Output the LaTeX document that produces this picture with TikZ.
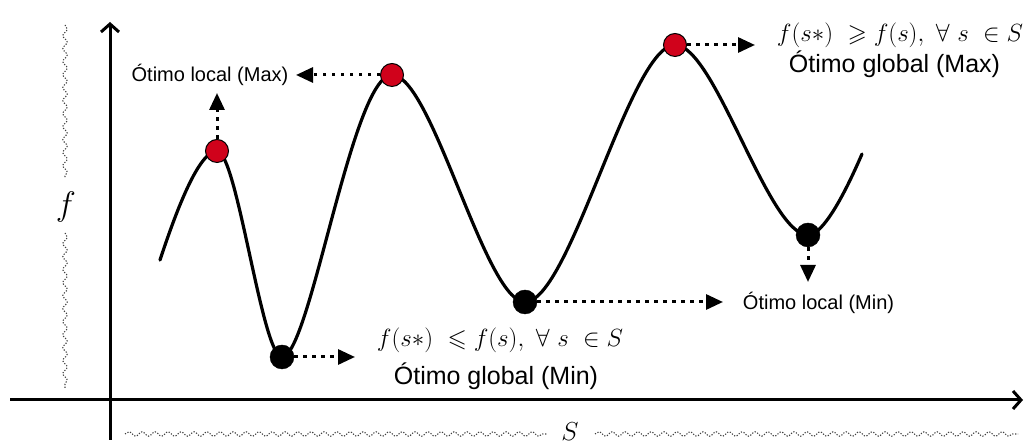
\RequirePackage{fix-cm}
\documentclass[tikz,border=0pt]{standalone}
\usepackage[no-math]{fontspec}
\newfontfamily\lsans{Liberation Sans}
\usepackage{amsmath,amssymb}
\usetikzlibrary{arrows.meta,decorations.pathmorphing}
\definecolor{dotred}{HTML}{D0021B}
\tikzset{
  curveline/.style={line width=3.2pt, line cap=round},
  axisline/.style={line width=3pt, -{Straight Barb[length=8pt,width=18pt,line width=3pt]}},
  wavy/.style={decorate, decoration={snake, segment length=13pt, amplitude=2.2pt}, dash pattern=on 1.2pt off 1.6pt, line width=1.1pt, black!75},
  reddot/.style={circle, fill=dotred, draw=black, line width=1pt, minimum size=23pt, inner sep=0pt},
  blackdot/.style={circle, fill=black, draw=black, minimum size=24pt, inner sep=0pt},
  dotarrow/.style={line width=3pt, dash pattern=on 3.5pt off 5.5pt, -{Triangle[length=17pt,width=15pt]}},
  lbl/.style={font=\lsans\fontsize{20}{24}\selectfont, inner sep=0pt},
  glbl/.style={font=\lsans\fontsize{25}{30}\selectfont, inner sep=0pt},
  fml/.style={font=\fontsize{24.88}{30}\selectfont, inner sep=0pt},
  axlbl/.style={font=\fontsize{34}{40}\selectfont, inner sep=0pt},
  slbl/.style={font=\fontsize{26}{30}\selectfont, inner sep=0pt}
}
\begin{document}
\begin{tikzpicture}[x=1pt,y=1pt]
\useasboundingbox (0,0) rectangle (1034,446);
% wavy brackets
\coordinate (fw1) at (65,421); \coordinate (fw2) at (65,268);
\coordinate (fw3) at (65,213); \coordinate (fw4) at (65,58);
\coordinate (sw1) at (125,12); \coordinate (sw2) at (547,12);
\coordinate (sw3) at (595,12); \coordinate (sw4) at (1018,12);
\draw[wavy] (fw1) -- (fw2);
\draw[wavy] (fw3) -- (fw4);
\draw[wavy] (sw1) -- (sw2);
\draw[wavy] (sw3) -- (sw4);
\node[axlbl, anchor=base] (flab) at (66,230) {$f$};
\node[slbl, anchor=base] (slab) at (570,5) {$S$};
% axes
\coordinate (ybot) at (110,6); \coordinate (ytop) at (110,424);
\coordinate (xl) at (10,46); \coordinate (xr) at (1023,46);
\draw[axisline] (ybot) -- (ytop);
\draw[axisline] (xl) -- (xr);
% curve
\draw[curveline] (160,186) .. controls (172,222) and (197,295) .. (217,295)
 .. controls (237,295) and (262,89) .. (282,89)
 .. controls (310,89) and (352,371) .. (392,371)
 .. controls (432,371) and (485,144) .. (525,144)
 .. controls (570,144) and (630,401) .. (675,401)
 .. controls (715,401) and (768,211) .. (808,211)
 .. controls (826,211) and (852,269) .. (862,292);
% dots
\node[reddot] (r1) at (217,295) {};
\node[blackdot] (b1) at (282,89) {};
\node[reddot] (r2) at (392,371) {};
\node[blackdot] (b2) at (525,144) {};
\node[reddot] (r3) at (675,401) {};
\node[blackdot] (b3) at (808,211) {};
% labels
\node[lbl, anchor=base] (lmax) at (210,364) {Ótimo local (Max)};
\node[lbl, anchor=base] (lmin) at (818.5,136) {Ótimo local (Min)};
\node[glbl, anchor=base] (gmin) at (496,61) {Ótimo global (Min)};
\node[glbl, anchor=base] (gmax) at (894.5,373) {Ótimo global (Max)};
\node[fml, anchor=base] (fmin) at (500,99) {$f(s{*})\ \leqslant f(s),\ \forall\ s\ \in S$};
\node[fml, anchor=base] (fmax) at (900,404) {$f(s{*})\ \geqslant f(s),\ \forall\ s\ \in S$};
% arrows
\coordinate (t1) at (217,353);
\coordinate (t2) at (296,371);
\coordinate (t3) at (355,89);
\coordinate (t4) at (723,144);
\coordinate (t5) at (808,164);
\coordinate (t6) at (755,401);
\draw[dotarrow] (r1) -- (t1);
\draw[dotarrow] (r2) -- (t2);
\draw[dotarrow] (b1) -- (t3);
\draw[dotarrow] (b2) -- (t4);
\draw[dotarrow] (b3) -- (t5);
\draw[dotarrow] (r3) -- (t6);
\end{tikzpicture}
\end{document}
